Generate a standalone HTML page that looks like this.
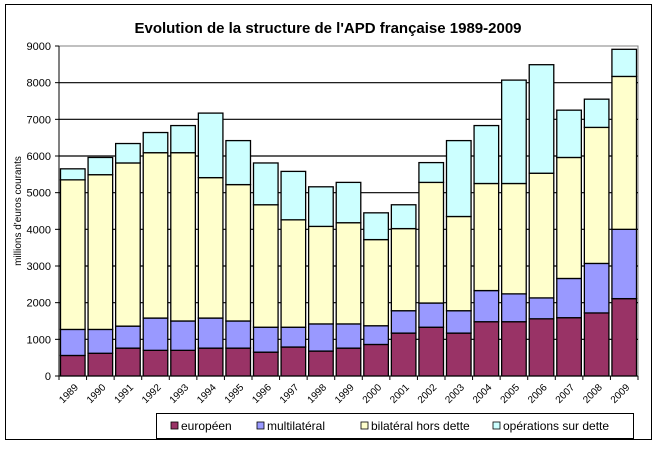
<!DOCTYPE html>
<html><head><meta charset="utf-8"><style>
body{margin:0;background:#fff;font-family:"Liberation Sans",Arial,sans-serif}
svg text{font-family:"Liberation Sans",Arial,sans-serif}
</style></head><body>
<svg id="c" width="656" height="445" xmlns="http://www.w3.org/2000/svg">
<rect x="5.5" y="4.5" width="646" height="435" fill="#fff" stroke="#000"/>
<text x="328" y="33" text-anchor="middle" font-size="15" font-weight="bold">Evolution de la structure de l'APD française 1989-2009</text>
<text transform="translate(21,211) rotate(-90)" text-anchor="middle" font-size="10">millions d'euros courants</text>
<g id="grid"></g><g id="bars"></g><g id="axes"></g>
<g>
<rect x="156.5" y="413.5" width="477" height="25" fill="#fff" stroke="#000"/>
<rect x="171" y="422" width="7" height="7" fill="#993366" stroke="#000" stroke-width="0.8"/><text x="181" y="430" font-size="12">européen</text>
<rect x="257" y="422" width="7" height="7" fill="#9999ff" stroke="#000" stroke-width="0.8"/><text x="267" y="430" font-size="12">multilatéral</text>
<rect x="361" y="422" width="7" height="7" fill="#ffffcc" stroke="#000" stroke-width="0.8"/><text x="371" y="430" font-size="12">bilatéral hors dette</text>
<rect x="493" y="422" width="7" height="7" fill="#ccffff" stroke="#000" stroke-width="0.8"/><text x="503" y="430" font-size="12">opérations sur dette</text>
</g>
</svg>
<script>
const years=["1989","1990","1991","1992","1993","1994","1995","1996","1997","1998","1999","2000","2001","2002","2003","2004","2005","2006","2007","2008","2009"];
const europeen=[560,620,760,700,700,760,760,650,790,680,760,860,1170,1330,1170,1480,1480,1560,1590,1720,2110];
const multilateral=[710,650,600,880,800,820,740,680,540,740,660,510,610,660,610,850,760,570,1070,1350,1890];
const bilateral=[4080,4220,4450,4510,4590,3830,3720,3340,2930,2660,2760,2350,2240,3290,2570,2920,3010,3400,3300,3710,4170];
const operations=[300,470,530,550,740,1760,1200,1140,1320,1080,1100,730,650,540,2070,1580,2820,2960,1290,770,740];
const yTicks=[0,1000,2000,3000,4000,5000,6000,7000,8000,9000];
const NS="http://www.w3.org/2000/svg";
const X0=59,X1=638,Y0=376,Y1=46,MAX=9000;
const band=(X1-X0)/years.length;
const y=v=>Y0-(v/MAX)*(Y0-Y1);
const xb=i=>X0+i*band;
function mk(t,a,p){const e=document.createElementNS(NS,t);for(const k in a)e.setAttribute(k,a[k]);p.appendChild(e);return e;}
const grid=document.getElementById('grid'),bars=document.getElementById('bars'),axes=document.getElementById('axes');
mk('rect',{x:X0,y:Y1,width:X1-X0,height:Y0-Y1,fill:'#fff',stroke:'#808080'},grid);
yTicks.forEach(t=>{
 if(t>0&&t<MAX){const l=mk('line',{x1:X0,x2:X1,y1:y(t),y2:y(t),stroke:'#000','stroke-width':1.2},grid);
 
 }
 mk('line',{x1:X0-4,x2:X0,y1:y(t),y2:y(t),stroke:'#000'},axes);
 const tx=mk('text',{x:X0-8,y:y(t)+4,'text-anchor':'end','font-size':11},axes);tx.textContent=t;
 
 
});
const series=[[europeen,'#993366','europeen'],[multilateral,'#9999ff','multilateral'],[bilateral,'#ffffcc','bilateral'],[operations,'#ccffff','operations']];
years.forEach((yr,i)=>{
 let cum=0;
 series.forEach(([arr,col,nm])=>{
  const v=arr[i];const r=mk('rect',{x:xb(i)+1.5,y:y(cum+v),width:band-3,height:y(cum)-y(cum+v),fill:col,stroke:'#000','stroke-width':1.3},bars);
  
  
  cum+=v;
 });
 const tx=mk('text',{transform:`translate(${xb(i)+band/2+6},${Y0+12}) rotate(-45)`,'text-anchor':'end','font-size':10},axes);tx.textContent=yr;
 
 
});
for(let i=0;i<=years.length;i++)mk('line',{x1:xb(i),x2:xb(i),y1:Y0,y2:Y0+4,stroke:'#000'},axes);
mk('line',{x1:X0,x2:X0,y1:Y1,y2:Y0,stroke:'#000'},axes);
mk('line',{x1:X0,x2:X1,y1:Y0,y2:Y0,stroke:'#000'},axes);
</script>
</body></html>
